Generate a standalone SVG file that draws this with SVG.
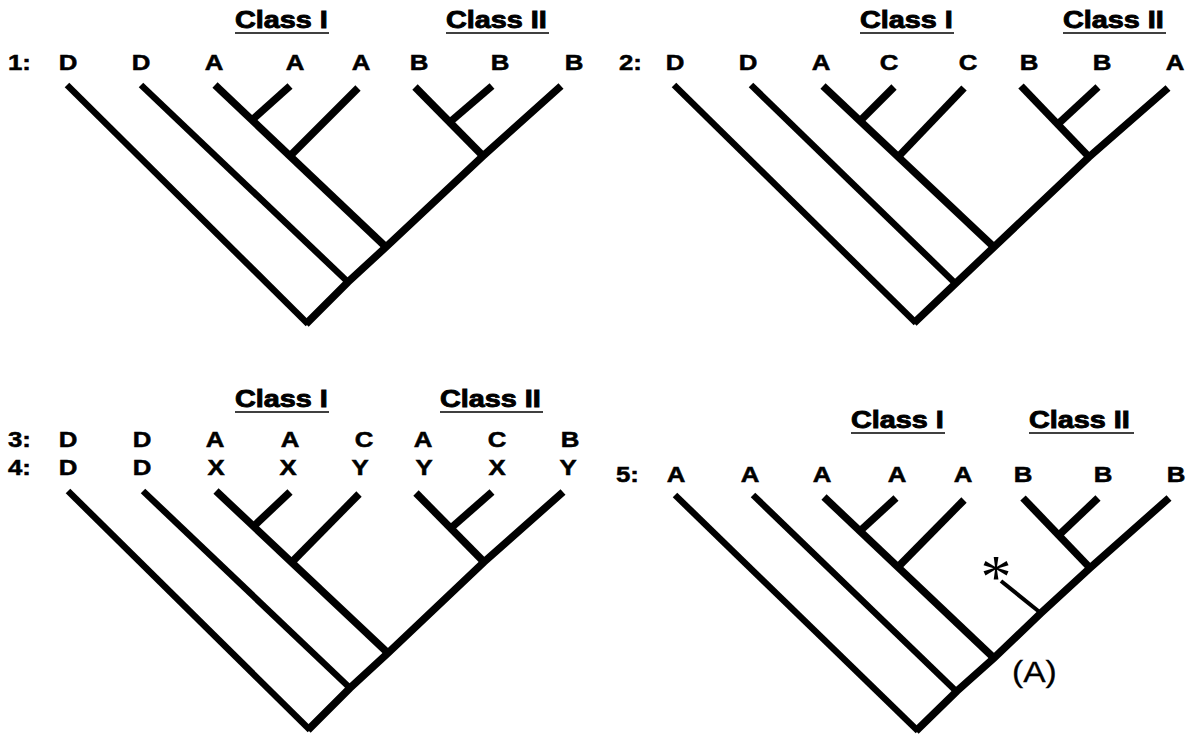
<svg xmlns="http://www.w3.org/2000/svg" width="1189" height="734" viewBox="0 0 1189 734">
<style>
  .lbl { font-family: "Liberation Sans", Arial, sans-serif; font-weight: bold; font-size: 21.5px; fill: #000; text-anchor: middle; stroke: #000; stroke-width: 0.5px; }
  .num { font-family: "Liberation Sans", Arial, sans-serif; font-weight: bold; font-size: 21.5px; fill: #000; text-anchor: start; stroke: #000; stroke-width: 0.5px; }
  .cls { font-family: "Liberation Sans", Arial, sans-serif; font-weight: bold; font-size: 24px; fill: #000; text-anchor: start; stroke: #000; stroke-width: 0.9px; }
  .ul { stroke: #000; stroke-width: 1.6; }
  .br { fill: none; stroke: #000; stroke-width: 7.5; stroke-linecap: butt; stroke-linejoin: miter; }
  .thin { fill: none; stroke: #000; stroke-width: 6.5; stroke-linecap: butt; }
  .star { fill: none; stroke: #000; stroke-width: 4; stroke-linecap: butt; }
  .plain { font-family: "Liberation Sans", Arial, sans-serif; font-size: 30px; fill: #000; stroke: #000; stroke-width: 0.3px; }
  .ast { font-family: "Liberation Serif", "Times New Roman", serif; font-size: 62px; fill: #000; text-anchor: middle; }
</style>

<!-- Tree 1 -->
<g id="tree1">
  <g id="tree1-headers">
    <text class="cls" transform="translate(235,28) scale(1.2,1)">Class I</text>
    <line class="ul" x1="235" y1="33" x2="329" y2="33"/>
    <text class="cls" transform="translate(446,28) scale(1.2,1)">Class II</text>
    <line class="ul" x1="446" y1="33" x2="549" y2="33"/>
  </g>
  <g id="tree1-leaves">
    <text class="num" transform="translate(8,70) scale(1.2,1)">1:</text>
    <text class="lbl" transform="translate(68,70) scale(1.2,1)">D</text>
    <text class="lbl" transform="translate(141,70) scale(1.2,1)">D</text>
    <text class="lbl" transform="translate(214,70) scale(1.2,1)">A</text>
    <text class="lbl" transform="translate(295,70) scale(1.2,1)">A</text>
    <text class="lbl" transform="translate(361,70) scale(1.2,1)">A</text>
    <text class="lbl" transform="translate(419,70) scale(1.2,1)">B</text>
    <text class="lbl" transform="translate(500,70) scale(1.2,1)">B</text>
    <text class="lbl" transform="translate(574,70) scale(1.2,1)">B</text>
  </g>
  <g id="tree1-connectors">
    <line class="thin" x1="67" y1="85" x2="308" y2="324"/>
    <line class="thin" x1="141" y1="85" x2="349" y2="283"/>
    <polyline class="br" points="306,324 348,282 386,247 483,156 561,86"/>
    <line class="br" x1="215" y1="85" x2="388" y2="249"/>
    <line class="br" x1="290" y1="156" x2="358" y2="88"/>
    <line class="br" x1="252" y1="120" x2="290" y2="86"/>
    <line class="br" x1="415" y1="87" x2="485" y2="158"/>
    <line class="br" x1="450" y1="122" x2="492" y2="86"/>
  </g>
</g>

<!-- Tree 2 -->
<g id="tree2">
  <g id="tree2-headers">
    <text class="cls" transform="translate(860,28) scale(1.2,1)">Class I</text>
    <line class="ul" x1="860" y1="33" x2="954" y2="33"/>
    <text class="cls" transform="translate(1063,28) scale(1.2,1)">Class II</text>
    <line class="ul" x1="1063" y1="33" x2="1166" y2="33"/>
  </g>
  <g id="tree2-leaves">
    <text class="num" transform="translate(619,70) scale(1.2,1)">2:</text>
    <text class="lbl" transform="translate(675,70) scale(1.2,1)">D</text>
    <text class="lbl" transform="translate(748,70) scale(1.2,1)">D</text>
    <text class="lbl" transform="translate(821,70) scale(1.2,1)">A</text>
    <text class="lbl" transform="translate(889,70) scale(1.2,1)">C</text>
    <text class="lbl" transform="translate(968,70) scale(1.2,1)">C</text>
    <text class="lbl" transform="translate(1029,70) scale(1.2,1)">B</text>
    <text class="lbl" transform="translate(1102,70) scale(1.2,1)">B</text>
    <text class="lbl" transform="translate(1175,70) scale(1.2,1)">A</text>
  </g>
  <g id="tree2-connectors">
    <line class="thin" x1="674" y1="85" x2="916" y2="323"/>
    <line class="thin" x1="751" y1="85" x2="957" y2="285"/>
    <polyline class="br" points="914,323 955,284 994,247 1089,157 1168,88"/>
    <line class="br" x1="823" y1="86" x2="996" y2="249"/>
    <line class="br" x1="860" y1="121" x2="894" y2="87"/>
    <line class="br" x1="898" y1="157" x2="964" y2="88"/>
    <line class="br" x1="1021" y1="86" x2="1091" y2="159"/>
    <line class="br" x1="1058" y1="124" x2="1098" y2="87"/>
  </g>
</g>

<!-- Tree 3 -->
<g id="tree3">
  <g id="tree3-headers">
    <text class="cls" transform="translate(235,407) scale(1.2,1)">Class I</text>
    <line class="ul" x1="235" y1="412" x2="329" y2="412"/>
    <text class="cls" transform="translate(440,407) scale(1.2,1)">Class II</text>
    <line class="ul" x1="440" y1="412" x2="543" y2="412"/>
  </g>
  <g id="tree3-leaves">
    <text class="num" transform="translate(8,447) scale(1.2,1)">3:</text>
    <text class="lbl" transform="translate(68,447) scale(1.2,1)">D</text>
    <text class="lbl" transform="translate(142,447) scale(1.2,1)">D</text>
    <text class="lbl" transform="translate(215,447) scale(1.2,1)">A</text>
    <text class="lbl" transform="translate(290,447) scale(1.2,1)">A</text>
    <text class="lbl" transform="translate(364,447) scale(1.2,1)">C</text>
    <text class="lbl" transform="translate(423,447) scale(1.2,1)">A</text>
    <text class="lbl" transform="translate(497,447) scale(1.2,1)">C</text>
    <text class="lbl" transform="translate(570,447) scale(1.2,1)">B</text>
    <text class="num" transform="translate(8,475) scale(1.2,1)">4:</text>
    <text class="lbl" transform="translate(68,475) scale(1.2,1)">D</text>
    <text class="lbl" transform="translate(142,475) scale(1.2,1)">D</text>
    <text class="lbl" transform="translate(216,475) scale(1.2,1)">X</text>
    <text class="lbl" transform="translate(288,475) scale(1.2,1)">X</text>
    <text class="lbl" transform="translate(360,475) scale(1.2,1)">Y</text>
    <text class="lbl" transform="translate(424,475) scale(1.2,1)">Y</text>
    <text class="lbl" transform="translate(497,475) scale(1.2,1)">X</text>
    <text class="lbl" transform="translate(568,475) scale(1.2,1)">Y</text>
  </g>
  <g id="tree3-connectors">
    <line class="thin" x1="68" y1="491" x2="310" y2="730"/>
    <line class="thin" x1="143" y1="491" x2="351" y2="689"/>
    <polyline class="br" points="308,730 350,688 388,653 484,562 563,492"/>
    <line class="br" x1="216" y1="491" x2="390" y2="655"/>
    <line class="br" x1="292" y1="562" x2="359" y2="494"/>
    <line class="br" x1="254" y1="526" x2="290" y2="492"/>
    <line class="br" x1="416" y1="493" x2="486" y2="564"/>
    <line class="br" x1="451" y1="528" x2="492" y2="492"/>
  </g>
</g>

<!-- Tree 4 -->
<g id="tree4">
  <g id="tree4-headers">
    <text class="cls" transform="translate(851,428) scale(1.2,1)">Class I</text>
    <line class="ul" x1="851" y1="433" x2="945" y2="433"/>
    <text class="cls" transform="translate(1029,428) scale(1.2,1)">Class II</text>
    <line class="ul" x1="1029" y1="433" x2="1134" y2="433"/>
  </g>
  <g id="tree4-leaves">
    <text class="num" transform="translate(616,482) scale(1.2,1)">5:</text>
    <text class="lbl" transform="translate(676,482) scale(1.2,1)">A</text>
    <text class="lbl" transform="translate(750,482) scale(1.2,1)">A</text>
    <text class="lbl" transform="translate(822,482) scale(1.2,1)">A</text>
    <text class="lbl" transform="translate(897,482) scale(1.2,1)">A</text>
    <text class="lbl" transform="translate(963,482) scale(1.2,1)">A</text>
    <text class="lbl" transform="translate(1023,482) scale(1.2,1)">B</text>
    <text class="lbl" transform="translate(1103,482) scale(1.2,1)">B</text>
    <text class="lbl" transform="translate(1176,482) scale(1.2,1)">B</text>
  </g>
  <g id="tree4-connectors">
    <line class="thin" x1="675" y1="495" x2="918" y2="731"/>
    <line class="thin" x1="753" y1="495" x2="958" y2="693"/>
    <polyline class="br" points="916,731 957,691 994,658 1041,613 1090,568 1169,498"/>
    <line class="br" x1="824" y1="497" x2="996" y2="660"/>
    <line class="br" x1="860" y1="531" x2="896" y2="498"/>
    <line class="br" x1="898" y1="567" x2="964" y2="500"/>
    <line class="br" x1="1023" y1="498" x2="1092" y2="570"/>
    <line class="br" x1="1059" y1="535" x2="1098" y2="498"/>
    <line class="star" x1="1042" y1="614" x2="1001" y2="581"/>
  </g>
  <g id="tree4-annotations">
    <text class="ast" x="996" y="597">*</text>
    <text class="plain" transform="translate(1012,682) scale(1.12,1)">(A)</text>
  </g>
</g>
</svg>
